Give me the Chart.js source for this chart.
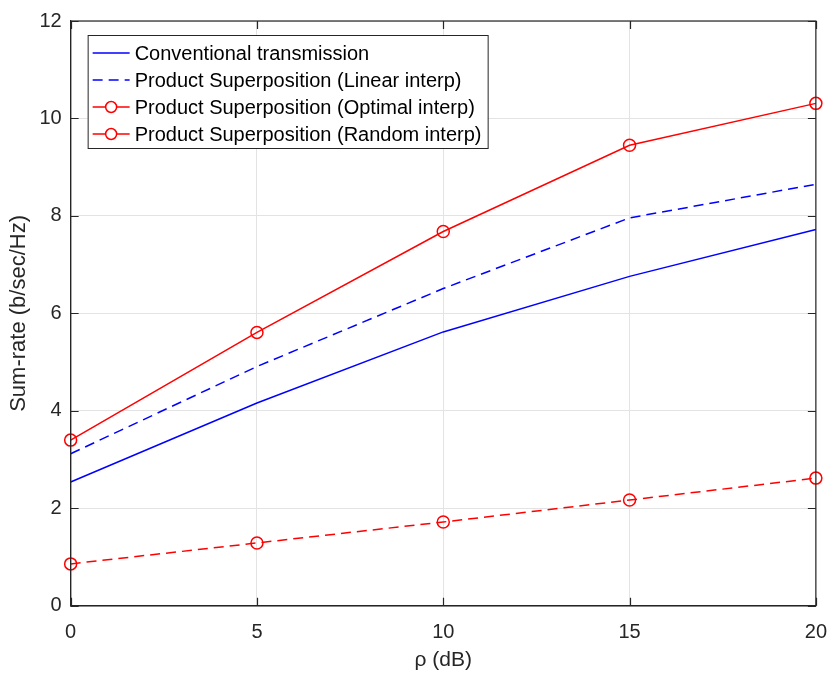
<!DOCTYPE html>
<html>
<head>
<meta charset="utf-8">
<script src="https://cdn.jsdelivr.net/npm/chart.js@4.4.1/dist/chart.umd.min.js"></script>
<style>
  html, body { margin: 0; padding: 0; background: #fff; }
  #wrap { width: 831px; height: 677px; }
</style>
</head>
<body>
<div id="wrap"><canvas id="chart" width="831" height="677"></canvas></div>
<script>
// rho in dB
const rho = [0, 5, 10, 15, 20];

// sum-rate values (b/sec/Hz)
const conventional = [2.54, 4.16, 5.62, 6.76, 7.72];
const linearInterp = [3.12, 4.91, 6.51, 7.96, 8.65];
const optimalInterp = [3.40, 5.61, 7.68, 9.45, 10.31];
const randomInterp = [0.86, 1.29, 1.72, 2.17, 2.62];

const xTicks = [0, 5, 10, 15, 20];
const yTicks = [0, 2, 4, 6, 8, 10, 12];

const seriesNames = [
    'Conventional transmission',
    'Product Superposition (Linear interp)',
    'Product Superposition (Optimal interp)',
    'Product Superposition (Random interp)'
];

const FONT = "'Liberation Sans', Arial, Helvetica, sans-serif";
const AXIS = '#262626';

function pts(ys) {
    return rho.map((x, i) => ({ x: x, y: ys[i] }));
}

// box around the axes + inward ticks, like MATLAB
const boxPlugin = {
    id: 'boxPlugin',
    afterDatasetsDraw(chart) {
        const { ctx, chartArea: a, scales } = chart;
        ctx.save();
        ctx.strokeStyle = AXIS;
        ctx.lineWidth = 1.2;
        ctx.strokeRect(a.left, a.top, a.right - a.left, a.bottom - a.top);
        ctx.beginPath();
        xTicks.forEach(v => {
            const px = Math.round(scales.x.getPixelForValue(v)) + 0.5;
            ctx.moveTo(px, a.bottom); ctx.lineTo(px, a.bottom - 8);
            ctx.moveTo(px, a.top); ctx.lineTo(px, a.top + 8);
        });
        yTicks.forEach(v => {
            const py = Math.round(scales.y.getPixelForValue(v)) + 0.5;
            ctx.moveTo(a.left, py); ctx.lineTo(a.left + 8, py);
            ctx.moveTo(a.right, py); ctx.lineTo(a.right - 8, py);
        });
        ctx.stroke();
        ctx.restore();
    },
    afterDraw(chart) {
        // legend box in the upper left corner
        const { ctx, chartArea: a } = chart;
        const left = a.left + 17, top = a.top + 14;
        const w = 400, h = 113, rowH = 27;
        ctx.save();
        ctx.fillStyle = '#fff';
        ctx.fillRect(left, top, w, h);
        ctx.strokeStyle = AXIS;
        ctx.lineWidth = 1;
        ctx.strokeRect(left + 0.5, top + 0.5, w, h);
        ctx.font = '20px ' + FONT;
        ctx.textBaseline = 'middle';
        chart.data.datasets.forEach((ds, i) => {
            const y = top + 18 + i * rowH;
            ctx.strokeStyle = ds.borderColor;
            ctx.lineWidth = 1.5;
            // dashed sample only for the line without markers
            ctx.setLineDash(ds.pointRadius > 0 ? [] : (ds.borderDash || []));
            ctx.beginPath();
            ctx.moveTo(left + 5, y); ctx.lineTo(left + 42, y);
            ctx.stroke();
            ctx.setLineDash([]);
            if (ds.pointRadius > 0) {
                ctx.fillStyle = '#fff';
                ctx.beginPath();
                ctx.arc(left + 23.5, y, 5.5, 0, Math.PI * 2);
                ctx.fill();
                ctx.stroke();
            }
            ctx.fillStyle = '#000';
            ctx.fillText(ds.label, left + 47, y + 1);
        });
        ctx.restore();
    }
};

new Chart(document.getElementById('chart'), {
    type: 'line',
    data: {
        datasets: [
            {
                label: seriesNames[0],
                data: pts(conventional),
                borderColor: '#0000ff',
                borderWidth: 1.5,
                pointRadius: 0,
                fill: false
            },
            {
                label: seriesNames[1],
                data: pts(linearInterp),
                borderColor: '#0000ff',
                borderWidth: 1.5,
                borderDash: [10, 6],
                pointRadius: 0,
                fill: false
            },
            {
                label: seriesNames[2],
                data: pts(optimalInterp),
                borderColor: '#ff0000',
                borderWidth: 1.5,
                pointRadius: 6,
                pointBorderWidth: 1.5,
                pointBorderColor: '#ff0000',
                pointBackgroundColor: 'rgba(0,0,0,0)',
                fill: false
            },
            {
                label: seriesNames[3],
                data: pts(randomInterp),
                borderColor: '#ff0000',
                borderWidth: 1.5,
                borderDash: [10, 6],
                pointRadius: 6,
                pointBorderWidth: 1.5,
                pointBorderColor: '#ff0000',
                pointBackgroundColor: 'rgba(0,0,0,0)',
                fill: false
            }
        ]
    },
    options: {
        responsive: false,
        animation: false,
        clip: false,
        layout: { padding: { left: 6, right: 15, top: 9, bottom: 4 } },
        plugins: {
            legend: { display: false },
            tooltip: { enabled: false }
        },
        scales: {
            x: {
                type: 'linear',
                min: 0,
                max: 20,
                afterBuildTicks: (scale) => { scale.ticks = xTicks.map(v => ({ value: v })); },
                ticks: { color: AXIS, font: { family: FONT, size: 20 }, padding: 4 },
                // invisible outer ticks only push the labels down
                grid: { color: '#e3e3e3', lineWidth: 1, drawTicks: true, tickLength: 11, tickColor: 'rgba(0,0,0,0)' },
                border: { color: AXIS, width: 1.2 },
                title: {
                    display: true,
                    text: 'ρ (dB)',
                    color: AXIS,
                    font: { family: FONT, size: 21 },
                    padding: { top: -1, bottom: 0 }
                }
            },
            y: {
                type: 'linear',
                min: 0,
                max: 12,
                afterBuildTicks: (scale) => { scale.ticks = yTicks.map(v => ({ value: v })); },
                ticks: { color: AXIS, font: { family: FONT, size: 20 }, padding: 9 },
                grid: { color: '#e3e3e3', lineWidth: 1, drawTicks: false },
                border: { color: AXIS, width: 1.2 },
                title: {
                    display: true,
                    text: 'Sum-rate (b/sec/Hz)',
                    color: AXIS,
                    font: { family: FONT, size: 22 },
                    padding: { top: 0, bottom: -2 }
                }
            }
        }
    },
    plugins: [boxPlugin]
});
</script>
</body>
</html>
